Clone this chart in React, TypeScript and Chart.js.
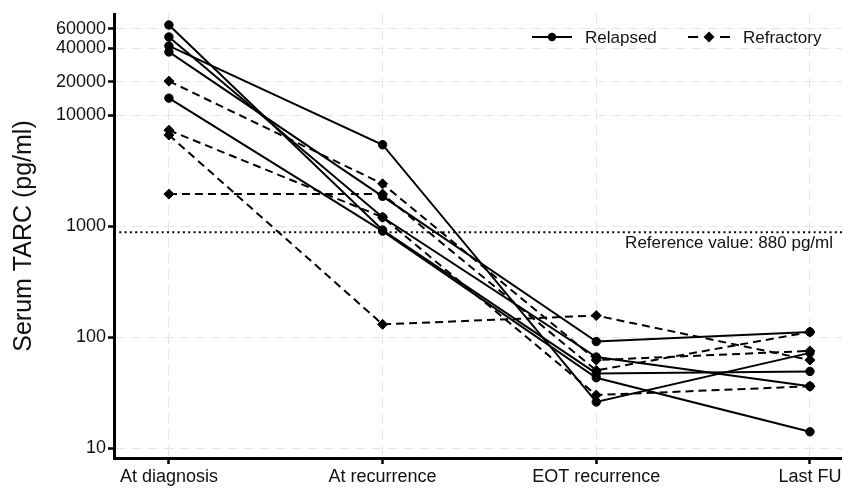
import React, { useEffect, useRef } from "react";
import { Chart, registerables } from "chart.js";
Chart.register(...registerables);

const categories = ["At diagnosis", "At recurrence", "EOT recurrence", "Last FU"];
const yTickValues = [10, 100, 1000, 10000, 20000, 40000, 60000];
const referenceValue = 880;
const referenceLabel = "Reference value: 880 pg/ml";
const yTitle = "Serum TARC (pg/ml)";
const legendLabels = ["Relapsed", "Refractory"];

// Relapsed (solid, circles)
const relapsed1 = [64700, 920, 47, 49];
const relapsed2 = [50500, 1200, 66, 36];
const relapsed3 = [41900, 5400, 26, 72];
const relapsed4 = [37000, 1850, 91, 111];
const relapsed5 = [14200, 900, 43, 14];
// Refractory (dashed, diamonds)
const refractory1 = [20200, 2400, 62, 75];
const refractory2 = [7300, 1200, 30, 36];
const refractory3 = [6600, 130, 156, 62];
const refractory4 = [1940, 1940, 50, 111];

const relapsedSeries = [relapsed1, relapsed2, relapsed3, relapsed4, relapsed5];
const refractorySeries = [refractory1, refractory2, refractory3, refractory4];

const FONT = "'Liberation Sans', Arial, Helvetica, sans-serif";
const TEXT = "#111";
const GRID = "#e6e6e6";

function makeDataset(vals: number[], dashed: boolean) {
  return {
    data: vals.map((v, i) => ({ x: i, y: v })),
    borderColor: "#000",
    backgroundColor: "#000",
    borderWidth: 2,
    borderDash: dashed ? [8, 5] : [],
    pointStyle: dashed ? "rectRot" : "circle",
    pointRadius: dashed ? 5 : 4.2,
    pointBorderWidth: 1,
    pointBorderColor: "#000",
    pointBackgroundColor: "#000",
    tension: 0,
  };
}

const overlayPlugin = {
  id: "overlay",
  beforeDatasetsDraw(chart: any) {
    const { ctx, chartArea, scales } = chart;
    const py = scales.y.getPixelForValue(referenceValue);
    ctx.save();
    ctx.strokeStyle = "#000";
    ctx.lineWidth = 2;
    ctx.setLineDash([2, 3.3]);
    ctx.beginPath();
    ctx.moveTo(chartArea.left, py);
    ctx.lineTo(chartArea.right, py);
    ctx.stroke();
    ctx.setLineDash([]);
    ctx.font = `17px ${FONT}`;
    ctx.fillStyle = TEXT;
    ctx.textAlign = "right";
    ctx.textBaseline = "alphabetic";
    ctx.fillText(referenceLabel, chartArea.right - 9, py + 16);
    ctx.restore();
  },
  afterDraw(chart: any) {
    const { ctx } = chart;
    const ly = 37;
    ctx.save();
    ctx.strokeStyle = "#000";
    ctx.fillStyle = "#000";
    ctx.lineWidth = 2;
    // Relapsed
    ctx.setLineDash([]);
    ctx.beginPath();
    ctx.moveTo(532, ly);
    ctx.lineTo(572, ly);
    ctx.stroke();
    ctx.beginPath();
    ctx.arc(552, ly, 4.2, 0, Math.PI * 2);
    ctx.fill();
    // Refractory
    ctx.beginPath();
    ctx.moveTo(688, ly);
    ctx.lineTo(698, ly);
    ctx.moveTo(720, ly);
    ctx.lineTo(730, ly);
    ctx.stroke();
    ctx.beginPath();
    ctx.moveTo(709, ly - 5.5);
    ctx.lineTo(714.5, ly);
    ctx.lineTo(709, ly + 5.5);
    ctx.lineTo(703.5, ly);
    ctx.closePath();
    ctx.fill();
    ctx.font = `17px ${FONT}`;
    ctx.fillStyle = TEXT;
    ctx.textAlign = "left";
    ctx.textBaseline = "alphabetic";
    ctx.fillText(legendLabels[0], 585, ly + 6);
    ctx.fillText(legendLabels[1], 743, ly + 6);
    ctx.restore();
  },
};

export default function App() {
  const ref = useRef<HTMLCanvasElement | null>(null);
  useEffect(() => {
    document.body.style.margin = "0";
    const canvas = ref.current;
    if (!canvas) return;
    const datasets = [
      ...relapsedSeries.map((s) => makeDataset(s, false)),
      ...refractorySeries.map((s) => makeDataset(s, true)),
    ];
    const gridCommon = {
      color: GRID,
      lineWidth: 1,
      tickColor: "#000",
      tickWidth: 2.5,
      tickLength: 6,
      tickBorderDash: [],
      drawOnChartArea: true,
    };
    const chart = new Chart(canvas, {
      type: "line",
      data: { datasets: datasets as any },
      plugins: [overlayPlugin],
      options: {
        animation: false,
        responsive: false,
        layout: { autoPadding: false, padding: { top: 14, right: 0, left: 0, bottom: 0 } },
        plugins: { legend: { display: false }, tooltip: { enabled: false } },
        scales: {
          x: {
            type: "linear",
            min: -0.257,
            max: 3.15,
            afterBuildTicks: (s: any) => {
              s.ticks = categories.map((_, i) => ({ value: i }));
            },
            afterFit: (s: any) => {
              s.height = 30;
              s.paddingLeft = 0;
              s.paddingRight = 0;
            },
            ticks: {
              callback: (v: any) => categories[Math.round(Number(v))] ?? "",
              font: { family: FONT, size: 18 },
              color: TEXT,
              padding: 2,
              maxRotation: 0,
              autoSkip: false,
            },
            grid: gridCommon as any,
            border: { display: true, color: "#000", width: 3, dash: [10, 6] },
          },
          y: {
            type: "logarithmic",
            min: 8.13,
            max: 81300,
            afterBuildTicks: (s: any) => {
              s.ticks = yTickValues.map((v) => ({ value: v }));
            },
            afterFit: (s: any) => {
              s.width = 114;
              s.paddingTop = 0;
              s.paddingBottom = 0;
            },
            ticks: {
              callback: (v: any) => String(v),
              font: { family: FONT, size: 18 },
              color: TEXT,
              padding: 2,
              autoSkip: false,
            },
            title: {
              display: true,
              text: yTitle,
              font: { family: FONT, size: 25 },
              color: TEXT,
              padding: { top: 9, bottom: 0 },
            },
            grid: gridCommon as any,
            border: { display: true, color: "#000", width: 3, dash: [10, 6] },
          },
        },
      } as any,
    });
    return () => chart.destroy();
  }, []);
  return (
    <div style={{ width: 842, height: 488 }}>
      <canvas ref={ref} width={842} height={488} />
    </div>
  );
}
